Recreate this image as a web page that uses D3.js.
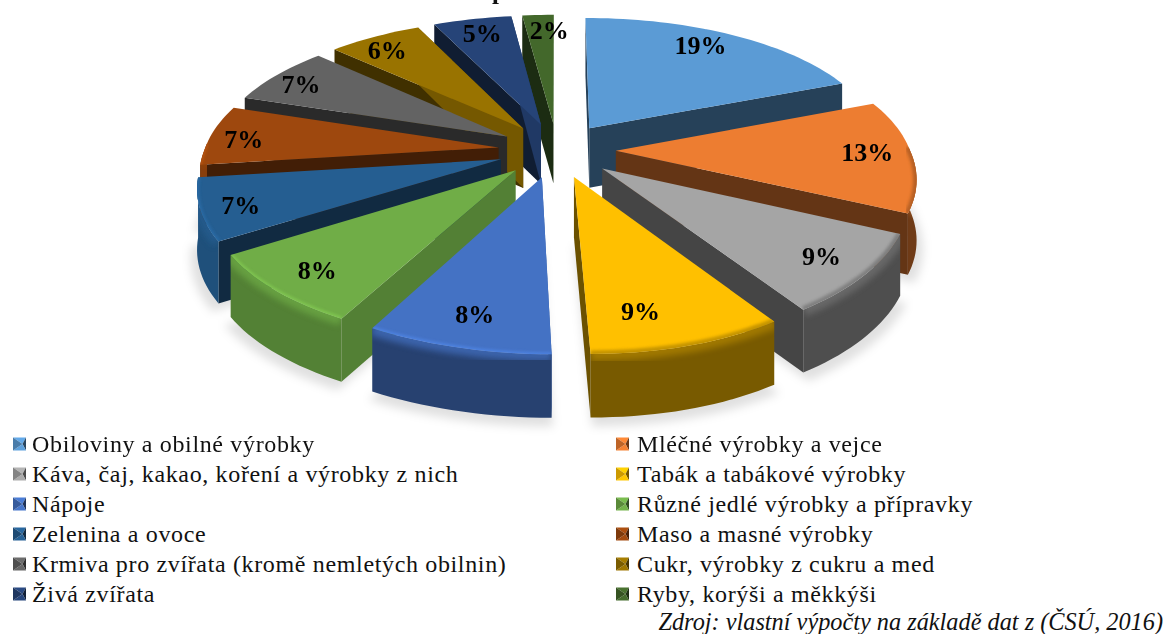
<!DOCTYPE html>
<html lang="cs">

<head>
  <meta charset="utf-8">
  <title>Exploded 3D pie</title>
  <script src="https://cdn.jsdelivr.net/npm/d3@7"></script>
  <style>
    html, body { margin: 0; padding: 0; background: #fff; overflow: hidden; }
    text { font-family: "Liberation Serif", "DejaVu Serif", serif; fill: #111; }
    .pct { font-size: 26px; font-weight: bold; text-anchor: middle; dominant-baseline: central; fill: #000; }
    .leg { font-size: 24px; letter-spacing: 0.65px; dominant-baseline: central; }
    .src { font-size: 24.3px; font-style: italic; text-anchor: end; }
  </style>
</head>

<body>
<script>
  var categories = [
    "Obiloviny a obilné výrobky", "Mléčné výrobky a vejce",
    "Káva, čaj, kakao, koření a výrobky z nich", "Tabák a tabákové výrobky",
    "Nápoje", "Různé jedlé výrobky a přípravky",
    "Zelenina a ovoce", "Maso a masné výrobky",
    "Krmiva pro zvířata (kromě nemletých obilnin)", "Cukr, výrobky z cukru a med",
    "Živá zvířata", "Ryby, korýši a měkkýši"
  ];
  var shares = [19, 13, 9, 9, 8, 8, 7, 7, 7, 6, 5, 2];
  var colors = ["#5b9bd5", "#ed7d31", "#a5a5a5", "#ffc000", "#4472c4", "#70ad47",
                "#255e91", "#9e480e", "#636363", "#997300", "#264478", "#43682b"];
  var sourceNote = "Zdroj: vlastní výpočty na základě dat z (ČSÚ, 2016)";
  var titleFragment = "p";

  var width = 1165, height = 634;
  var cx = 557, cy = 150, radX = 294, radY = 136;
  var persp = 0.172, perspBack = 0.14, lean = 4.5, explode = 0.2, depth = 60, labelR = 0.84;
  // excel did not keep its labels strictly on the radius
  var labelNudge = [[-10, -3], [3, -2], [4, 0], [-24, -2], [5, -1], [0, 2],
                    [-10, 4], [-13, 3], [-11, 0], [-9, 0], [0, -1], [9, 0]];

  var svg = d3.select("body").append("svg")
    .attr("width", width).attr("height", height);

  var defs = svg.append("defs");
  [["soft", 5], ["bevel", 3], ["edge", 1.5]].forEach(function(f) {
    defs.append("filter").attr("id", f[0])
      .attr("x", "-20%").attr("y", "-20%").attr("width", "140%").attr("height", "140%")
      .append("feGaussianBlur").attr("stdDeviation", f[1]);
  });

  // plane coords: u to the right, v towards the viewer, pie radius = 1
  function project(u, v, z) {
    var s = 1 / (1 - persp * v);
    var sx = v < 0 ? 1 / (1 - perspBack * v) : s;
    var f = Math.max(v, 0);
    return [cx + radX * u * sx + lean * Math.pow(f, 6),
            cy + radY * v * s + (z || 0) * (1 + 0.05 * v)];
  }

  function scale(c, k) {
    var r = d3.rgb(c);
    return d3.rgb(r.r * k, r.g * k, r.b * k).formatHex();
  }

  var line = d3.line();
  var pie = d3.pie().sort(null).value(function(d) { return d; });
  var slices = pie(shares).map(function(d, i) {
    var mid = (d.startAngle + d.endAngle) / 2;
    d.i = i;
    d.mid = mid;
    d.ox = explode * Math.sin(mid);
    d.oy = -explode * Math.cos(mid);
    return d;
  });

  function pt(d, a, r, z) {
    return project(d.ox + r * Math.sin(a), d.oy - r * Math.cos(a), z);
  }
  function arcAngles(a0, a1) {
    var n = Math.max(2, Math.ceil((a1 - a0) / 0.03));
    return d3.range(n + 1).map(function(k) { return a0 + (a1 - a0) * k / n; });
  }
  function topFace(d, r) {
    return [project(d.ox, d.oy)].concat(arcAngles(d.startAngle, d.endAngle).map(function(a) {
      return pt(d, a, r || 1);
    }));
  }
  function wall(d, a) {
    return [project(d.ox, d.oy), pt(d, a, 1), pt(d, a, 1, depth), project(d.ox, d.oy, depth)];
  }
  // wall brightness: faces turned to the right catch the light
  function wallShade(nu) {
    return 0.42 + Math.max(0, nu - 0.5) * 0.85;
  }
  // rim brightness: brighter on the left of the pie
  function rimShade(d) {
    return 0.47 + 0.4 * Math.max(0, -Math.sin(d.mid));
  }

  // soft shadow on the floor
  var shadow = svg.append("g").attr("filter", "url(#soft)");
  slices.forEach(function(d) {
    if (Math.cos(d.mid) < 0.1) {
      shadow.append("path")
        .attr("d", line(topFace(d, 1.02).map(function(p) { return [p[0], p[1] + depth + 8]; })) + "Z")
        .attr("fill", "#000").attr("opacity", 0.12);
    }
  });

  var order = slices.slice().sort(function(a, b) { return a.oy - b.oy; });

  order.forEach(function(d) {
    var c = colors[d.i];
    var g = svg.append("g");

    // walls on the two cut faces
    [[d.startAngle, -1], [d.endAngle, 1]].forEach(function(w) {
      var nu = w[1] * Math.cos(w[0]);
      var nv = w[1] * Math.sin(w[0]);
      if (nv < -0.02 && Math.abs(nu) < 0.9) return;
      g.append("path").attr("d", line(wall(d, w[0])) + "Z")
        .attr("fill", scale(c, wallShade(nu)));
    });

    // rim, only where it turns towards the viewer
    var a0 = Math.max(d.startAngle, Math.PI / 2 - 0.03);
    var a1 = Math.min(d.endAngle, 3 * Math.PI / 2 + 0.03);
    var lit = Math.sin(d.mid) < 0.2;
    if (a1 > a0) {
      var angs = arcAngles(a0, a1);
      var upper = angs.map(function(a) { return pt(d, a, 1); });
      var lower = angs.map(function(a) { return pt(d, a, 1, depth); }).reverse();
      var clipId = "rim" + d.i;
      var rimPath = line(upper.concat(lower)) + "Z";
      defs.append("clipPath").attr("id", clipId).append("path").attr("d", rimPath);
      g.append("path").attr("d", rimPath).attr("fill", scale(c, rimShade(d)));
      g.append("g").attr("clip-path", "url(#" + clipId + ")")
        .append("path").attr("d", line(upper))
        .attr("fill", "none").attr("stroke", c).attr("stroke-width", 14)
        .attr("opacity", lit ? 0.7 : 0.3).attr("filter", "url(#bevel)");
    }

    // top face and its rounded edge
    g.append("path").attr("d", line(topFace(d)) + "Z").attr("fill", c);
    if (a1 > a0) {
      var faceId = "face" + d.i;
      defs.append("clipPath").attr("id", faceId).append("path").attr("d", line(topFace(d)) + "Z");
      g.append("g").attr("clip-path", "url(#" + faceId + ")")
        .append("path").attr("d", line(arcAngles(a0, a1).map(function(a) { return pt(d, a, 1); })))
        .attr("fill", "none")
        .attr("stroke", lit ? d3.rgb(c).brighter(0.5).formatHex() : scale(c, 0.62))
        .attr("stroke-width", lit ? 4 : 7).attr("opacity", lit ? 0.75 : 0.6)
        .attr("filter", "url(#edge)");
    }
  });

  // percent labels
  svg.append("g").selectAll("text")
    .data(slices)
    .enter().append("text")
    .attr("class", "pct")
    .attr("x", function(d) { return pt(d, d.mid, labelR)[0] + labelNudge[d.i][0]; })
    .attr("y", function(d) { return pt(d, d.mid, labelR)[1] + labelNudge[d.i][1]; })
    .text(function(d) { return shares[d.i] + "%"; });

  // chart title sits above the page edge, only a descender shows
  svg.append("text").attr("x", 499).attr("y", -1)
    .attr("text-anchor", "middle")
    .style("font-size", "25px").style("font-weight", "bold")
    .text(titleFragment);

  // legend, two columns
  var rowY = d3.scalePoint().domain(d3.range(6)).range([444, 594]);
  var legend = svg.append("g").selectAll("g")
    .data(categories)
    .enter().append("g")
    .attr("transform", function(d, i) {
      return "translate(" + (i % 2 ? 616 : 13) + "," + rowY(Math.floor(i / 2)) + ")";
    });

  legend.each(function(d, i) {
    var g = d3.select(this), c = colors[i], s = 6.5;
    var mid = [s + 3, 0];
    [[[0, -s], [2 * s, -s], 1.25], [[2 * s, -s], [2 * s, s], 0.45],
     [[2 * s, s], [0, s], 1.1], [[0, s], [0, -s], 0.8]].forEach(function(t) {
      var col = t[2] > 1 ? d3.rgb(c).brighter(t[2] - 1).formatHex() : scale(c, t[2]);
      g.append("path").attr("d", line([t[0], t[1], mid]) + "Z").attr("fill", col);
    });
    g.append("text").attr("class", "leg")
      .attr("x", i % 2 ? 21 : 19).attr("y", 0).text(d);
  });

  svg.append("text").attr("class", "src")
    .attr("x", 1163).attr("y", 630)
    .text(sourceNote);
</script>
</body>

</html>
